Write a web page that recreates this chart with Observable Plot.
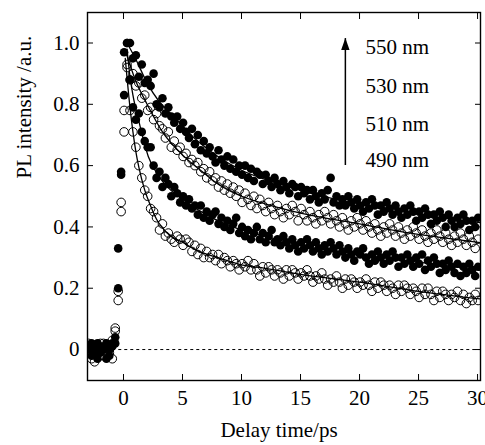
<!DOCTYPE html>
<html><head><meta charset="utf-8">
<script src="https://cdn.jsdelivr.net/npm/d3@7"></script>
<script src="https://cdn.jsdelivr.net/npm/@observablehq/plot@0.6"></script>
<style>
body{margin:0;background:#fff}
</style>
</head><body><div id="chart"></div>
<script>
// Delay times (ps), shared by all wavelengths
const time = [-2.95,-2.7,-2.45,-2.2,-1.95,-1.7,-1.45,-1.2,-0.95,-0.7,-0.45,-0.2,
0.05,0.3,0.55,0.8,1.05,1.3,1.55,1.8,2.05,2.3,2.55,2.8,3.05,3.3,3.55,3.8,4.05,4.3,4.55,4.8,
5.05,5.3,5.55,5.8,6.05,6.3,6.55,6.8,7.05,7.3,7.55,7.8,8.05,8.3,8.55,8.8,9.05,9.3,9.55,9.8,
10.05,10.3,10.55,10.8,11.05,11.3,11.55,11.8,12.05,12.3,12.55,12.8,13.05,13.3,13.55,13.8,14.05,14.3,14.55,14.8,
15.05,15.3,15.55,15.8,16.05,16.3,16.55,16.8,17.05,17.3,17.55,17.8,18.05,18.3,18.55,18.8,19.05,19.3,19.55,19.8,
20.05,20.3,20.55,20.8,21.05,21.3,21.55,21.8,22.05,22.3,22.55,22.8,23.05,23.3,23.55,23.8,24.05,24.3,24.55,24.8,
25.05,25.3,25.55,25.8,26.05,26.3,26.55,26.8,27.05,27.3,27.55,27.8,28.05,28.3,28.55,28.8,29.05,29.3,29.55,29.8,30.05];

const pl550 = [0.01,-0.02,0.00,0.02,-0.01,0.01,-0.03,0.00,0.02,0.04,0.20,0.57,
0.83,1.00,1.00,0.95,0.96,0.89,0.93,0.87,0.88,0.86,0.90,0.80,0.79,0.82,0.77,0.79,0.76,0.74,0.76,0.72,
0.74,0.71,0.69,0.72,0.67,0.70,0.65,0.68,0.64,0.66,0.63,0.61,0.65,0.62,0.60,0.63,0.59,0.62,0.58,0.60,
0.57,0.60,0.56,0.59,0.55,0.58,0.57,0.54,0.57,0.55,0.53,0.56,0.54,0.52,0.55,0.53,0.51,0.54,0.53,0.50,
0.53,0.51,0.52,0.49,0.52,0.50,0.48,0.51,0.49,0.52,0.56,0.48,0.50,0.47,0.49,0.47,0.50,0.48,0.46,0.49,
0.47,0.45,0.48,0.46,0.49,0.47,0.44,0.47,0.45,0.48,0.46,0.44,0.47,0.45,0.43,0.46,0.44,0.47,0.45,0.42,
0.45,0.43,0.46,0.44,0.41,0.44,0.42,0.45,0.43,0.40,0.44,0.42,0.40,0.43,0.41,0.44,0.42,0.39,0.42,0.40,0.43];

const pl530 = [-0.01,0.01,-0.04,0.00,0.02,-0.02,0.01,-0.01,0.03,0.07,0.16,0.45,
0.78,0.93,0.88,0.90,0.86,0.87,0.82,0.83,0.78,0.79,0.75,0.77,0.73,0.72,0.69,0.71,0.66,0.68,0.65,0.66,
0.63,0.64,0.61,0.62,0.60,0.61,0.58,0.59,0.56,0.58,0.55,0.56,0.53,0.55,0.52,0.54,0.51,0.53,0.50,0.52,
0.48,0.51,0.49,0.47,0.50,0.46,0.49,0.47,0.45,0.48,0.46,0.44,0.47,0.45,0.43,0.46,0.44,0.47,0.45,0.42,
0.46,0.44,0.42,0.45,0.43,0.41,0.44,0.42,0.45,0.43,0.41,0.44,0.42,0.40,0.43,0.41,0.39,0.42,0.40,0.43,
0.41,0.39,0.42,0.40,0.38,0.41,0.39,0.37,0.40,0.38,0.41,0.39,0.37,0.40,0.38,0.36,0.39,0.37,0.40,0.38,
0.36,0.39,0.37,0.35,0.38,0.36,0.39,0.37,0.35,0.38,0.36,0.34,0.37,0.35,0.38,0.36,0.34,0.37,0.35,0.33,0.36];

const pl510 = [0.00,0.02,-0.01,-0.03,0.01,0.00,0.02,-0.02,0.01,0.02,0.33,0.58,
0.97,1.00,0.88,0.79,0.75,0.77,0.71,0.68,0.66,0.66,0.60,0.56,0.58,0.53,0.56,0.54,0.50,0.53,0.51,0.48,
0.50,0.47,0.49,0.46,0.47,0.44,0.47,0.43,0.45,0.42,0.44,0.45,0.41,0.43,0.40,0.42,0.39,0.41,0.43,0.38,
0.40,0.37,0.39,0.36,0.38,0.40,0.36,0.38,0.35,0.37,0.39,0.35,0.36,0.34,0.37,0.35,0.33,0.36,0.34,0.32,
0.35,0.33,0.36,0.34,0.32,0.35,0.33,0.31,0.34,0.32,0.35,0.33,0.31,0.34,0.32,0.30,0.33,0.31,0.29,0.32,
0.31,0.33,0.30,0.28,0.31,0.29,0.32,0.30,0.28,0.31,0.29,0.32,0.30,0.27,0.30,0.28,0.31,0.29,0.27,0.30,
0.28,0.31,0.26,0.29,0.27,0.30,0.28,0.25,0.28,0.26,0.29,0.27,0.25,0.28,0.24,0.27,0.25,0.28,0.26,0.24,0.27];

const pl490 = [0.02,-0.03,0.01,0.01,-0.02,0.02,-0.01,0.00,-0.03,0.06,0.19,0.48,
0.71,0.92,0.78,0.71,0.66,0.60,0.56,0.52,0.50,0.46,0.45,0.43,0.39,0.41,0.37,0.38,0.36,0.35,0.37,0.36,
0.34,0.36,0.35,0.32,0.34,0.31,0.33,0.30,0.32,0.30,0.31,0.29,0.31,0.28,0.30,0.29,0.27,0.29,0.28,0.26,
0.28,0.27,0.29,0.26,0.28,0.26,0.24,0.27,0.25,0.27,0.26,0.24,0.26,0.25,0.23,0.26,0.24,0.26,0.25,0.23,
0.25,0.24,0.26,0.24,0.22,0.24,0.23,0.25,0.23,0.21,0.23,0.22,0.24,0.22,0.20,0.23,0.21,0.23,0.22,0.20,
0.22,0.21,0.23,0.21,0.19,0.22,0.20,0.22,0.21,0.19,0.21,0.20,0.18,0.21,0.19,0.21,0.20,0.18,0.20,0.19,
0.17,0.20,0.18,0.20,0.18,0.16,0.19,0.17,0.19,0.18,0.16,0.18,0.17,0.19,0.16,0.18,0.15,0.17,0.16,0.18,0.16];

// Fitted decay curves
const fitT550 = [0.3,1,2,3,4,5,6,8,10,12,15,18,20,23.5,27,30.2];
const fitV550 = [1.0,0.95,0.87,0.81,0.77,0.73,0.69,0.63,0.585,0.555,0.52,0.49,0.475,0.455,0.43,0.414];
const fitT530 = [0.2,1,2,3.3,5,7,8,10,12,15,20,23.5,27,30.2];
const fitV530 = [0.97,0.88,0.80,0.71,0.635,0.57,0.54,0.50,0.475,0.445,0.41,0.385,0.365,0.349];
const fitT510 = [0.3,0.55,0.8,1.3,2.1,3,4,5,7,10,12,15,20,25,30.2];
const fitV510 = [0.98,0.89,0.83,0.745,0.63,0.565,0.52,0.49,0.44,0.39,0.37,0.34,0.31,0.285,0.26];
const fitT490 = [0.15,0.55,0.8,1.05,1.3,1.8,2.3,2.8,3.3,4,5,6.4,8,10,12,15,20,25,30.2];
const fitV490 = [0.95,0.79,0.71,0.645,0.595,0.52,0.468,0.425,0.397,0.37,0.35,0.32,0.30,0.276,0.265,0.245,0.22,0.19,0.165];

const seriesNames = ["550 nm","530 nm","510 nm","490 nm"];
const seriesFilled = [true,false,true,false];

const xTicks = [0,5,10,15,20,25,30];
const yTicks = [0,0.2,0.4,0.6,0.8,1.0];
const yTickLabels = ["0","0.2","0.4","0.6","0.8","1.0"];
const xDomain = [-3.05,30.25];
const yDomain = [-0.101,1.0995];
const xLabel = "Delay time/ps";
const yLabel = "PL intensity /a.u.";

// annotation (arrow + wavelength labels)
const legendX = 20.5;
const legendY = [0.985,0.858,0.734,0.617];
const arrowX = 18.8, arrowFrom = 0.602, arrowTo = 1.016;
const baselineFrom = -0.4;

const FONT = "'Liberation Serif', 'DejaVu Serif', serif";
const values = [pl550, pl530, pl510, pl490];
const fits = [[fitT550,fitV550],[fitT530,fitV530],[fitT510,fitV510],[fitT490,fitV490]];
const rows = seriesNames.flatMap((name, s) => time.map((t, i) => ({t, v: values[s][i], name, filled: seriesFilled[s]})));
const fitRows = seriesNames.flatMap((name, s) => fits[s][0].map((t, i) => ({t, v: fits[s][1][i], name})));
const legendRows = seriesNames.map((label, i) => ({label, y: legendY[i]}));

const arrowHead = {draw(ctx) { ctx.moveTo(0, 0); ctx.lineTo(-4.2, 12); ctx.lineTo(4.2, 12); ctx.closePath(); }};

const chart = Plot.plot({
  width: 485, height: 445,
  marginLeft: 87, marginRight: 5, marginTop: 12, marginBottom: 65,
  x: {domain: xDomain},
  y: {domain: yDomain},
  style: {fontSize: "21px", background: "white", color: "black"},
  marks: [
    Plot.ruleY([0], {x1: baselineFrom, x2: xDomain[1], stroke: "black", strokeWidth: 1, strokeDasharray: "3,3"}),
    Plot.dot(rows.filter(d => !d.filled), {x: "t", y: "v", r: 4.3, stroke: "black", strokeWidth: 1, fill: "none", clip: true}),
    Plot.dot(rows.filter(d => d.filled), {x: "t", y: "v", r: 4.3, fill: "black", stroke: "none", clip: true}),
    Plot.line(fitRows, {x: "t", y: "v", z: "name", curve: "monotone-x", stroke: "black", strokeWidth: 1.3, clip: true}),
    Plot.link([0], {x1: arrowX, x2: arrowX, y1: arrowFrom, y2: arrowTo, stroke: "black", strokeWidth: 1.5}),
    Plot.dot([0], {x: arrowX, y: arrowTo, symbol: arrowHead, fill: "black", stroke: "none"}),
    Plot.text(legendRows, {x: legendX, y: "y", text: "label", textAnchor: "start", fontSize: 21}),
    Plot.frame({stroke: "black", strokeWidth: 1.4}),
    Plot.axisX(xTicks, {anchor: "bottom", tickSize: -6, tickPadding: 16, tickFormat: d => String(d), label: null, fontSize: 21}),
    Plot.axisX(xTicks, {anchor: "top", tickSize: -6, tickFormat: () => "", label: null}),
    Plot.axisY(yTicks, {anchor: "left", tickSize: -6, tickPadding: 14, tickFormat: d => yTickLabels[yTicks.indexOf(d)], label: null, fontSize: 21}),
    Plot.axisY(yTicks, {anchor: "right", tickSize: -6, tickFormat: () => "", label: null}),
    Plot.text([xLabel], {frameAnchor: "bottom", dy: 56, dx: -5, text: d => d, fontSize: 21}),
    Plot.text([yLabel], {frameAnchor: "left", rotate: -90, dx: -63, dy: -18, text: d => d, fontSize: 21})
  ]
});
d3.select(chart).selectAll("text").style("font-family", FONT);
d3.select(chart).style("font-family", FONT);
document.getElementById("chart").appendChild(chart);
</script>
</body></html>
